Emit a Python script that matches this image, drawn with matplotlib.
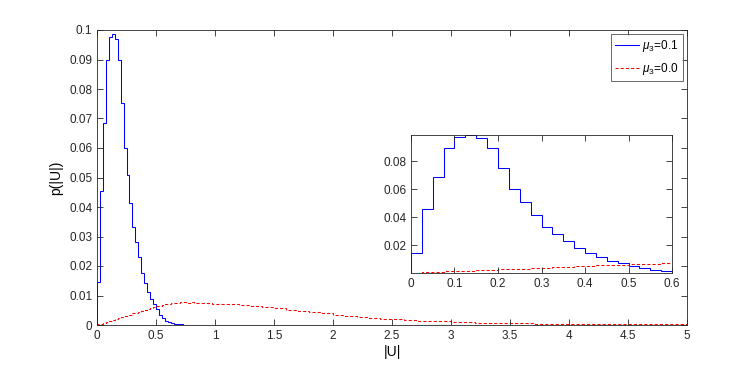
import numpy as np
import matplotlib
matplotlib.use("Agg")
import matplotlib.pyplot as plt
from matplotlib.ticker import FuncFormatter
from matplotlib.lines import Line2D

plt.rcParams['font.family'] = ['Liberation Sans', 'DejaVu Sans']
plt.rcParams['mathtext.fontset'] = 'custom'
plt.rcParams['mathtext.rm'] = 'Liberation Sans'
plt.rcParams['mathtext.it'] = 'Liberation Sans:italic'

# blue histogram, mu3 = 0.1, bins of 0.025 starting at 0
blue_vals = [0.0145, 0.0455, 0.0685, 0.0898, 0.0975, 0.0988, 0.0970, 0.0898,
             0.0752, 0.0600, 0.0507, 0.0415, 0.0332, 0.0282, 0.0232, 0.0177,
             0.0141, 0.0111, 0.0087, 0.0072, 0.0053, 0.0035, 0.0025, 0.0012,
             0.0010, 0.0007, 0.0005, 0.0003, 0.0002, 0.0001]
blue_width = 0.025

# red histogram, mu3 = 0.0: 0.025 bins up to 1, then 0.1 bins up to 5
red_fine = [0.0002, 0.0005, 0.0008, 0.0011, 0.0014, 0.0017, 0.0020, 0.0023,
            0.0026, 0.0029, 0.0032, 0.0035, 0.0039, 0.0042, 0.0045, 0.0048,
            0.0051, 0.0054, 0.0057, 0.0060, 0.0063, 0.0066, 0.0068, 0.0070,
            0.0072, 0.0073, 0.0075, 0.0076, 0.0077, 0.0078, 0.0077, 0.0076,
            0.0077, 0.0075, 0.0076, 0.0074, 0.0075, 0.0073, 0.0074, 0.0072]
red_coarse = [0.0072, 0.0070, 0.0068, 0.0066, 0.0062, 0.0058, 0.0052, 0.0049,
              0.0045, 0.0040, 0.0035, 0.0031, 0.0027, 0.0024, 0.0021, 0.0019,
              0.0017, 0.0015, 0.0013, 0.0012, 0.0010, 0.0009, 0.0008, 0.0008,
              0.0007, 0.0006, 0.0006, 0.0005, 0.0005, 0.0004, 0.0004, 0.0003,
              0.0003, 0.0003, 0.0003, 0.0002, 0.0002, 0.0002, 0.0002, 0.0002]
fine_width = 0.025
coarse_width = 0.1

blue_edges = np.arange(len(blue_vals) + 1) * blue_width
blue_edges = np.append(blue_edges, 5.0)
blue_all = np.append(blue_vals, 0.0)
red_edges = np.concatenate([np.arange(len(red_fine)) * fine_width,
                            1.0 + np.arange(len(red_coarse) + 1) * coarse_width])
red_all = np.array(red_fine + red_coarse)

fmt = FuncFormatter(lambda v, p: '%g' % round(v, 4))
red_dash = (0, (3, 2))


def style(ax):
    ax.tick_params(direction='in', length=4, width=0.6, labelsize=8.5,
                   colors='#262626', top=True, right=True)
    for s in ax.spines.values():
        s.set_linewidth(0.6)
        s.set_color('#262626')
    ax.xaxis.set_major_formatter(fmt)
    ax.yaxis.set_major_formatter(fmt)


fig = plt.figure(figsize=(7.47, 3.65), dpi=100)
ax = fig.add_axes([97 / 747, 1 - 325 / 365, 590 / 747, 295 / 365])
ax.stairs(blue_all, blue_edges, color='blue', lw=0.75)
ax.stairs(red_all, red_edges, color='red', lw=0.75, ls=red_dash)
ax.set_xlim(0, 5)
ax.set_ylim(0, 0.1)
ax.set_xticks(np.arange(0, 5.01, 0.5))
ax.set_yticks(np.arange(0, 0.101, 0.01))
style(ax)
ax.set_xlabel('|U|', fontsize=10, labelpad=2)
ax.set_ylabel('p(|U|)', fontsize=10, labelpad=4)
handles = [Line2D([], [], color='blue', lw=0.75),
           Line2D([], [], color='red', lw=0.75, ls=red_dash)]
leg = ax.legend(handles, [r'$\mu_3$=0.1', r'$\mu_3$=0.0'], loc='upper right',
                fontsize=8.5, frameon=True, fancybox=False,
                edgecolor='#262626', handlelength=2.0, handletextpad=0.3,
                borderaxespad=0.35, borderpad=0.35, labelspacing=0.6)
leg.get_frame().set_linewidth(0.6)

ins = fig.add_axes([411 / 747, 1 - 273 / 365, 261 / 747, 138 / 365])
ins.stairs(blue_all, blue_edges, color='blue', lw=0.75)
ins.stairs(red_all, red_edges, color='red', lw=0.75, ls=red_dash)
ins.set_xlim(0, 0.6)
ins.set_ylim(0, max(blue_vals))
ins.set_xticks(np.arange(0, 0.61, 0.1))
ins.set_yticks([0.02, 0.04, 0.06, 0.08])
style(ins)

plt.savefig('out.png', dpi=100)
